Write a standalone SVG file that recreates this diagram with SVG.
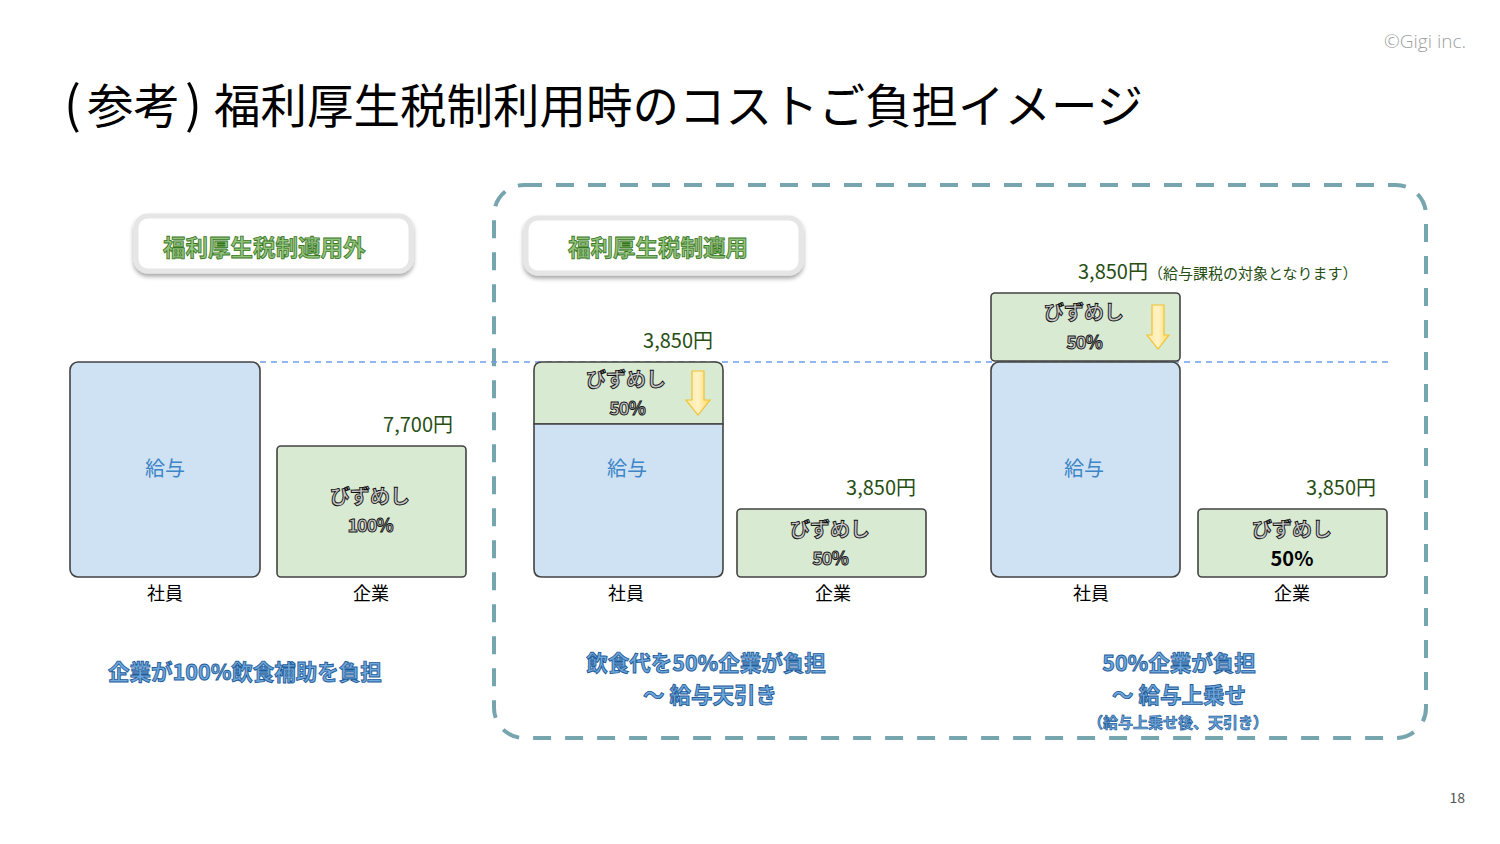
<svg xmlns="http://www.w3.org/2000/svg" width="1500" height="844" viewBox="0 0 1500 844">
<defs>
<filter id="sh" x="-10%" y="-20%" width="120%" height="150%">
<feDropShadow dx="0" dy="3" stdDeviation="2" flood-color="#000" flood-opacity="0.35"/>
</filter>
<linearGradient id="yg" x1="0" y1="0" x2="1" y2="0">
<stop offset="0" stop-color="#ffe8a0"/><stop offset="0.5" stop-color="#fff2c6"/><stop offset="1" stop-color="#ffd966"/>
</linearGradient>
</defs>
<style>
text{font-family:"Noto Sans CJK JP","Noto Sans",sans-serif}
.title{font-size:46.5px;fill:#000}
.lbl{font-size:22.5px;font-weight:bold;fill:#93c47d;stroke:#38761d;stroke-width:0.8}
.lblbox{fill:#fff;stroke:#e6e6e6;stroke-width:5}
.blue{fill:#cfe2f3;stroke:#434343;stroke-width:1.6}
.green{fill:#d9ead3;stroke:#434343;stroke-width:1.6}
.kyu{font-size:20px;fill:#3d85c6;text-anchor:middle}
.biz{font-size:20px;font-weight:bold;fill:#c8c8c8;stroke:#111;stroke-width:0.9;text-anchor:middle}
.pct{font-size:18px;font-weight:bold;fill:#c8c8c8;stroke:#111;stroke-width:0.9;text-anchor:middle;letter-spacing:-1px}
.yen{font-size:20px;fill:#274e13}
.ax{font-size:18px;fill:#000;text-anchor:middle}
.cap{font-size:21.5px;font-weight:bold;fill:#6fa8dc;stroke:#1f5c99;stroke-width:0.9;text-anchor:middle}
.arrow{fill:url(#yg);stroke:#f1c232;stroke-width:1.2}
</style>
<rect width="1500" height="844" fill="#fff"/>
<text x="1466" y="48" font-size="19" fill="#a0a0a0" text-anchor="end" style="font-family:'Open Sans','Noto Sans',sans-serif;font-weight:300">©Gigi inc.</text>
<text class="title" y="123"><tspan x="64" font-size="50">(</tspan><tspan x="87">参考</tspan><tspan x="185" font-size="50">)</tspan><tspan x="214">福利厚生税制利用時のコストご負担イメージ</tspan></text>

<g id="applied-frame">
<rect x="494" y="185" width="932" height="553" rx="30" fill="none" stroke="#76a5af" stroke-width="4" stroke-dasharray="18 14"/>
</g>

<g id="connectors">
<line x1="260" y1="362" x2="1388" y2="362" stroke="#6d9eeb" stroke-width="1.3" stroke-dasharray="6 5"/>
</g>

<g id="label-not-applied">
<rect class="lblbox" x="136" y="216" width="275" height="55" rx="12" filter="url(#sh)"/>
<text class="lbl" x="163" y="256">福利厚生税制適用外</text>
</g>
<g id="label-applied">
<rect class="lblbox" x="526" y="218" width="275" height="55" rx="12" filter="url(#sh)"/>
<text class="lbl" x="568" y="256">福利厚生税制適用</text>
</g>

<g id="left-employee">
<rect class="blue" x="70" y="362" width="190" height="215" rx="8"/>
<text class="kyu" x="165" y="476">給与</text>
<text class="ax" x="165" y="600">社員</text>
</g>
<g id="left-company">
<text class="yen" x="453" y="432" text-anchor="end">7,700円</text>
<rect class="green" x="277" y="446" width="189" height="131" rx="4"/>
<text class="biz" x="370" y="504">びずめし</text>
<text class="pct" x="370" y="532">100%</text>
<text class="ax" x="371" y="600">企業</text>
</g>
<g id="left-caption">
<text class="cap" x="245" y="680">企業が100%飲食補助を負担</text>
</g>

<g id="mid-employee">
<text class="yen" x="713" y="348" text-anchor="end">3,850円</text>
<path class="green" d="M534,424 V370 Q534,362 542,362 H715 Q723,362 723,370 V424 Z"/>
<path class="blue" d="M534,424 H723 V569 Q723,577 715,577 H542 Q534,577 534,569 Z"/>
<text class="biz" x="626" y="387">びずめし</text>
<text class="pct" x="627" y="415">50%</text>
<path class="arrow" d="M692,371 H704 V400 H710 L698,415 L686,400 H692 Z"/>
<text class="kyu" x="627" y="476">給与</text>
<text class="ax" x="626" y="600">社員</text>
</g>
<g id="mid-company">
<text class="yen" x="916" y="495" text-anchor="end">3,850円</text>
<rect class="green" x="737" y="509" width="189" height="68" rx="4"/>
<text class="biz" x="830" y="537">びずめし</text>
<text class="pct" x="830" y="565">50%</text>
<text class="ax" x="833" y="600">企業</text>
</g>
<g id="mid-caption">
<text class="cap" x="706" y="671">飲食代を50%企業が負担</text>
<text class="cap" x="710" y="703">～ 給与天引き</text>
</g>

<g id="right-employee">
<text x="1078" y="279"><tspan style="font-size:20px;fill:#274e13">3,850円</tspan><tspan style="font-size:15px;fill:#274e13">（給与課税の対象となります）</tspan></text>
<rect class="green" x="991" y="293" width="189" height="68" rx="4"/>
<text class="biz" x="1084" y="320">びずめし</text>
<text class="pct" x="1084" y="349">50%</text>
<path class="arrow" d="M1152,305 H1164 V335 H1169 L1158,349 L1147,335 H1152 Z"/>
<rect class="blue" x="991" y="362" width="189" height="215" rx="8"/>
<text class="kyu" x="1084" y="476">給与</text>
<text class="ax" x="1091" y="600">社員</text>
</g>
<g id="right-company">
<text class="yen" x="1376" y="495" text-anchor="end">3,850円</text>
<rect class="green" x="1198" y="509" width="189" height="68" rx="4"/>
<text class="biz" x="1292" y="537">びずめし</text>
<text x="1292" y="566" font-size="20" font-weight="bold" fill="#000" text-anchor="middle">50%</text>
<text class="ax" x="1292" y="600">企業</text>
</g>
<g id="right-caption">
<text class="cap" x="1179" y="671">50%企業が負担</text>
<text class="cap" x="1179" y="703">～ 給与上乗せ</text>
<text class="cap" x="1178" y="728" style="font-size:15px;stroke-width:0.7">（給与上乗せ後、天引き）</text>
</g>

<text x="1465" y="803" font-size="14" fill="#555" text-anchor="end">18</text>
</svg>
